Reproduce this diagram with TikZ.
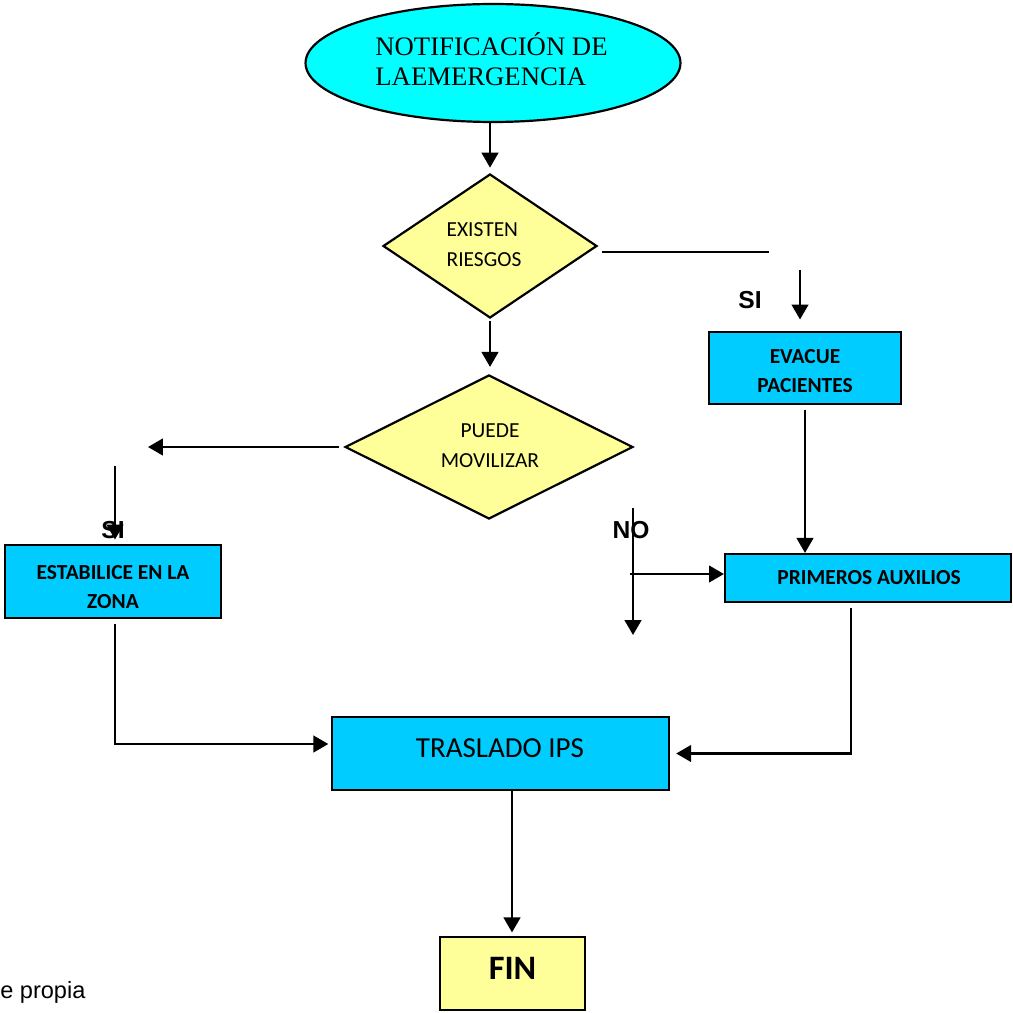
\documentclass[tikz,border=0pt]{standalone}
\usepackage{fontspec}
\usetikzlibrary{shapes.geometric,arrows.meta}
\newfontfamily\carlitofont{Carlito}
\newfontfamily\lserif{Liberation Serif}
\newfontfamily\arialfont{Liberation Sans}
\definecolor{cyanfill}{HTML}{00FFFF}
\definecolor{boxblue}{HTML}{00CCFF}
\definecolor{paleyellow}{HTML}{FFFF99}
\tikzset{
  lw/.style={line width=1.25pt},
  arr/.style={lw,-{Triangle[length=8.5pt,width=9.5pt]}},
  plain/.style={lw},
  proc/.style={rectangle,draw,lw,fill=boxblue,inner sep=0pt},
  proctext/.style={inner sep=0pt,align=center,
    font=\carlitofont\bfseries\fontsize{12.2}{17}\selectfont},
  decis/.style={diamond,draw,lw,fill=paleyellow,inner sep=0pt},
  decistext/.style={inner sep=0pt,align=left,
    font=\carlitofont\fontsize{12.2}{17}\selectfont},
  lbl/.style={font=\arialfont\bfseries\fontsize{14}{16}\selectfont,inner sep=0pt}
}
\begin{document}
\begin{tikzpicture}[x=0.02cm,y=-0.02cm]
\useasboundingbox (0,0) rectangle (1012,1013);
% shapes
\node[ellipse,draw,lw,fill=cyanfill,inner sep=0pt,minimum width=7.5cm,minimum height=2.36cm] (notif) at (493,63) {};
\node[inner sep=0pt,align=left,font=\lserif\fontsize{15.2}{17.2}\selectfont] (notiftext) at (491.5,59)
  {NOTIFICACIÓN DE\\LAEMERGENCIA};
\node[decis,minimum width=4.28cm,minimum height=2.88cm] (d1) at (490,246) {};
\node[decistext] (d1text) at (484,244.5) {EXISTEN\\RIESGOS};
\node[decis,minimum width=5.76cm,minimum height=2.88cm] (d2) at (489,447) {};
\node[decistext,align=center] (d2text) at (490,446) {PUEDE\\MOVILIZAR};
\node[proc,minimum width=4.32cm,minimum height=1.46cm] (estab) at (113,581.5) {};
\node[proctext] (estabtext) at (113,587) {ESTABILICE EN LA\\ZONA};
\node[proc,minimum width=3.84cm,minimum height=1.44cm] (evac) at (805,368) {};
\node[proctext] (evactext) at (805,371) {EVACUE\\PACIENTES};
\node[proc,minimum width=5.72cm,minimum height=0.96cm] (prim) at (868,578) {};
\node[proctext] (primtext) at (869,578) {PRIMEROS AUXILIOS};
\node[proc,minimum width=6.74cm,minimum height=1.46cm] (trasl) at (500.5,753.5) {};
\node[inner sep=0pt,font=\carlitofont\fontsize{16.5}{18}\selectfont] (trasltext) at (500,748) {TRASLADO IPS};
\node[proc,fill=paleyellow,minimum width=2.9cm,minimum height=1.46cm] (fin) at (512.5,973.5) {};
\node[inner sep=0pt,font=\carlitofont\bfseries\fontsize{19.5}{21}\selectfont] (fintext) at (512.5,968) {FIN};
\node[anchor=base west,inner sep=0pt,font=\arialfont\fontsize{13.4}{15}\selectfont] (src) at (0,998) {e propia};
% free ends
\coordinate (r1end) at (769,252);
\coordinate (evtop) at (800,270);
\coordinate (lend) at (148,447);
\coordinate (ltop) at (115,466);
\coordinate (notop) at (633,508);
\coordinate (nobot) at (633,635);
\coordinate (nostart) at (630,574);
% connectors
\draw[arr,shorten >=3pt] (notif.south -| 490,0) -- (d1.north -| 490,0);
\draw[plain] ([shift={(4,6)}]d1.east) -- (r1end);
\draw[arr,shorten >=6.5pt] (evtop) -- (evtop |- evac.north);
\draw[arr,shorten >=4pt,shorten <=1pt] (d1.south) -- (d2.north -| d1.south);
\draw[arr,shorten <=3pt] (d2.west) -- (lend);
\draw[arr,shorten >=2.5pt] (ltop) -- (ltop |- estab.north);
\draw[arr,shorten <=3pt] (evac.south) -- (evac.south |- prim.north);
\draw[arr] (notop) -- (nobot);
\draw[arr] (nostart) -- (nostart -| prim.west);
\draw[arr,shorten <=3pt,shorten >=3.5pt] (prim.south -| 851,0) |- (trasl.east);
\draw[arr,shorten <=3pt,shorten >=1.5pt] (estab.south -| 115,0) |- (trasl.west |- 0,744);
\draw[arr,shorten >=2pt] (trasl.south -| 512,0) -- (fin.north -| 512,0);
% labels
\node[lbl] (si1) at (750,300) {SI};
\node[lbl] (si2) at (113,530) {SI};
\node[lbl] (no1) at (631,530) {NO};
\end{tikzpicture}
\end{document}
